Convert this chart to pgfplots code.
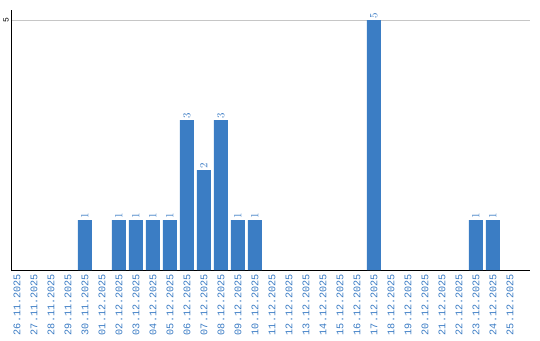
\documentclass[border=0pt]{standalone}
\usepackage{fontspec}
\setmonofont{Liberation Mono}
\usepackage{pgfplots}
\pgfplotsset{compat=1.18}
\definecolor{barblue}{HTML}{3B7DC4}
\definecolor{lblblue}{HTML}{3A7BC4}
\begin{document}
\begin{tikzpicture}[x=1bp,y=1bp]
\useasboundingbox (0,0) rectangle (540,340);
\begin{axis}[
  at={(11bp,70bp)}, anchor=south west,
  scale only axis, width=519bp, height=260bp,
  xmin=-0.35, xmax=30.18, ymin=0, ymax=5.2,
  axis x line*=bottom, axis y line*=left,
  axis line style={black, line width=1pt, -},
  xtick={0,...,29},
  xticklabels={26.11.2025,27.11.2025,28.11.2025,29.11.2025,30.11.2025,01.12.2025,02.12.2025,03.12.2025,04.12.2025,05.12.2025,06.12.2025,07.12.2025,08.12.2025,09.12.2025,10.12.2025,11.12.2025,12.12.2025,13.12.2025,14.12.2025,15.12.2025,16.12.2025,17.12.2025,18.12.2025,19.12.2025,20.12.2025,21.12.2025,22.12.2025,23.12.2025,24.12.2025,25.12.2025},
  xticklabel style={rotate=90, anchor=east, font=\ttfamily\fontsize{10.2}{12}\selectfont, text=lblblue, inner sep=0pt, xshift=-4bp},
  ytick={5}, yticklabels={5},
  yticklabel style={rotate=90, anchor=south, font=\ttfamily\fontsize{8}{10}\selectfont, inner sep=2pt},
  major tick length=0pt,
  ymajorgrids, grid style={line width=1pt, gray!45},
  ybar, bar width=14bp, bar shift=0pt,
  nodes near coords,
  every node near coord/.append style={rotate=90, anchor=west, font=\ttfamily\fontsize{11}{12}\selectfont, text=lblblue, inner sep=1pt},
  clip=false,
]
\addplot[fill=barblue, draw=none] coordinates {
(4,1) (6,1) (7,1) (8,1) (9,1) (10,3) (11,2) (12,3) (13,1) (14,1) (21,5) (27,1) (28,1)
};
\end{axis}
\end{tikzpicture}
\end{document}
